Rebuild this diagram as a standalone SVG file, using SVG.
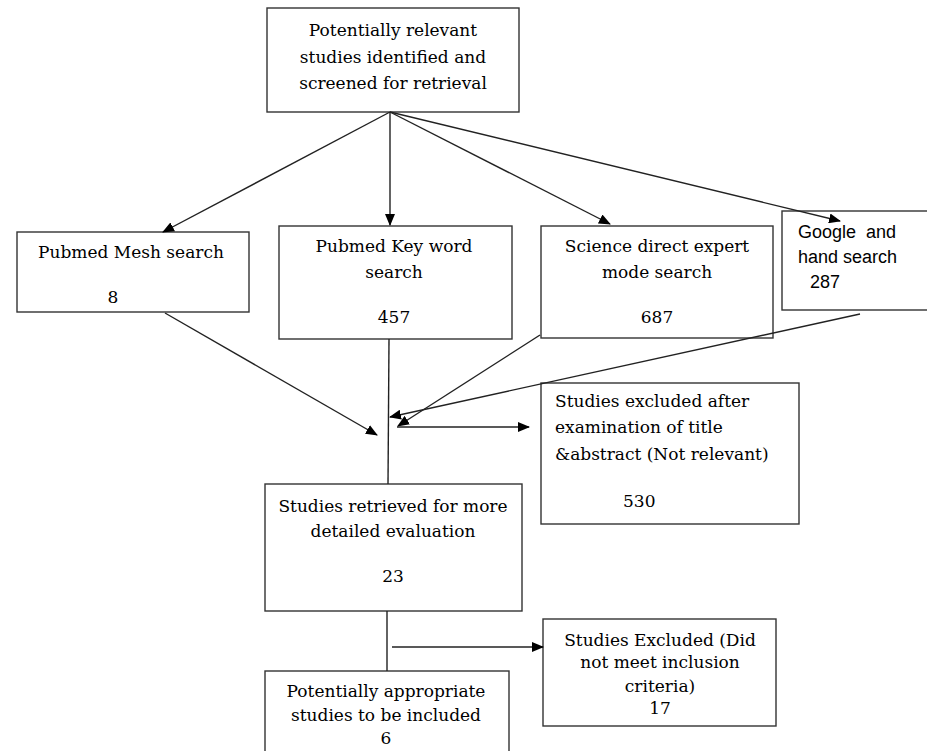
<svg xmlns="http://www.w3.org/2000/svg" width="927" height="751" viewBox="0 0 927 751">
<style>
rect.box{fill:#fff;stroke:#333;stroke-width:1.4}
text{font-family:"DejaVu Serif","Liberation Serif",serif;font-size:17px;fill:#000}
text.c{text-anchor:middle}
text.sans{font-family:"Liberation Sans",Arial,sans-serif;font-size:18px}
.conn line{stroke:#222;stroke-width:1.4}
</style>
<defs>
<marker id="ah" markerUnits="userSpaceOnUse" markerWidth="12" markerHeight="10" refX="11" refY="5" orient="auto">
<path d="M0,0 L12,5 L0,10 Z" fill="#000"/>
</marker>
</defs>
<rect width="927" height="751" fill="#fff"/>
<g id="top">
<rect class="box" x="267" y="8" width="252" height="104"/>
<text class="c" x="393" y="36">Potentially relevant</text>
<text class="c" x="393" y="63">studies identified and</text>
<text class="c" x="393" y="89">screened for retrieval</text>
</g>
<g id="mesh">
<rect class="box" x="17" y="232" width="232" height="80"/>
<text class="c" x="131" y="258">Pubmed Mesh search</text>
<text class="c" x="113" y="303">8</text>
</g>
<g id="keyword">
<rect class="box" x="279" y="226" width="233" height="113"/>
<text class="c" x="394" y="252">Pubmed Key word</text>
<text class="c" x="394" y="278">search</text>
<text class="c" x="394" y="323">457</text>
</g>
<g id="sciencedirect">
<rect class="box" x="541" y="226" width="232" height="112"/>
<text class="c" x="657" y="252">Science direct expert</text>
<text class="c" x="657" y="278">mode search</text>
<text class="c" x="657" y="323">687</text>
</g>
<g id="google">
<rect class="box" x="782" y="211" width="160" height="99"/>
<text class="sans" x="798" y="238" xml:space="preserve">Google  and</text>
<text class="sans" x="798" y="263">hand search</text>
<text class="sans" x="810" y="288">287</text>
</g>
<g id="excluded1">
<rect class="box" x="541" y="383" width="258" height="141"/>
<text x="555" y="407">Studies excluded after</text>
<text x="555" y="433">examination of title</text>
<text x="555" y="460">&amp;abstract (Not relevant)</text>
<text x="623" y="507">530</text>
</g>
<g id="retrieved">
<rect class="box" x="265" y="484" width="257" height="127"/>
<text class="c" x="393" y="512">Studies retrieved for more</text>
<text class="c" x="393" y="537">detailed evaluation</text>
<text class="c" x="393" y="582">23</text>
</g>
<g id="excluded2">
<rect class="box" x="543" y="619" width="233" height="107"/>
<text class="c" x="660" y="646">Studies Excluded (Did</text>
<text class="c" x="660" y="668">not meet inclusion</text>
<text class="c" x="660" y="692">criteria)</text>
<text class="c" x="660" y="714">17</text>
</g>
<g id="included">
<rect class="box" x="265" y="671" width="244" height="100"/>
<text class="c" x="386" y="697">Potentially appropriate</text>
<text class="c" x="386" y="721">studies to be included</text>
<text class="c" x="386" y="744">6</text>
</g>
<g id="connectors" class="conn">
<line x1="390" y1="112" x2="163" y2="232" marker-end="url(#ah)"/>
<line x1="390" y1="112" x2="390" y2="225" marker-end="url(#ah)"/>
<line x1="390" y1="112" x2="610" y2="224" marker-end="url(#ah)"/>
<line x1="390" y1="112" x2="840" y2="221" marker-end="url(#ah)"/>
<line x1="165" y1="313" x2="377" y2="435" marker-end="url(#ah)"/>
<line x1="389" y1="339" x2="388" y2="484"/>
<line x1="540" y1="335" x2="398" y2="426" marker-end="url(#ah)"/>
<line x1="860" y1="314" x2="390" y2="417" marker-end="url(#ah)"/>
<line x1="397" y1="427" x2="529" y2="427" marker-end="url(#ah)"/>
<line x1="387" y1="611" x2="387" y2="671"/>
<line x1="392" y1="647" x2="543" y2="647" marker-end="url(#ah)"/>
</g>
</svg>
